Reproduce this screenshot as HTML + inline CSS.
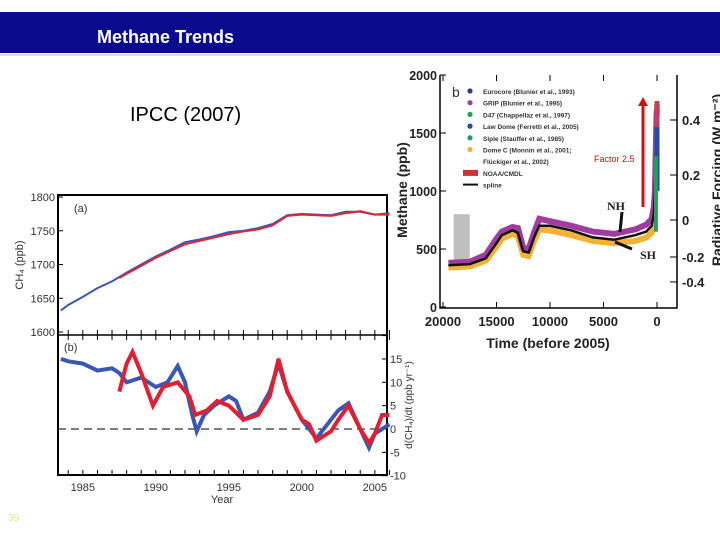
<!DOCTYPE html>
<html><head><meta charset="utf-8"><style>
body{margin:0;width:720px;height:540px;background:#fff;overflow:hidden;font-family:"Liberation Sans",sans-serif;}
svg{position:absolute;left:0;top:0}
</style></head><body>
<svg width="720" height="540" font-family="Liberation Sans, sans-serif">
<rect x="0" y="12" width="720" height="41" fill="#0b0b8e"/>
<line x1="0" y1="55" x2="720" y2="55" stroke="#bbb" stroke-width="1"/>
<text x="97" y="43" fill="#fff" font-size="18" font-weight="bold">Methane Trends</text>
<text x="130" y="121" fill="#000" font-size="20">IPCC (2007)</text>
<text x="8" y="521" fill="#e8e0a0" font-size="10">39</text>
<g id="left"></g>
<g id="right"></g>
</svg>
<script>
// ---- Left chart data ----
const yearsA=[1983.5,1984,1985,1986,1987,1988,1989,1990,1991,1992,1993,1994,1995,1996,1997,1998,1999,2000,2001,2002,2003,2004,2005,2006];
const blueA=[1632,1640,1652,1665,1675,1688,1700,1712,1722,1733,1737,1742,1748,1750,1754,1760,1773,1775,1774,1773,1778,1778,1774,1776];
const yearsRedA=[1987.5,1988,1989,1990,1991,1992,1993,1994,1995,1996,1997,1998,1999,2000,2001,2002,2003,2004,2005,2006];
const redA=[1680,1686,1698,1710,1720,1730,1735,1740,1745,1749,1752,1758,1772,1774,1773,1772,1776,1779,1774,1774];
const yearsBlueB=[1983.5,1984,1985,1986,1987,1987.5,1988,1989,1990,1990.8,1991.5,1992,1992.5,1992.8,1993.3,1994,1995,1995.5,1996,1997,1997.8,1998.4,1999,2000,2001,2001.5,2002,2002.5,2003.2,2004,2004.6,2005,2006];
const blueB=[15,14.5,14,12.5,13,12,10,11,9,10,13.5,10,3,-0.5,3,5,7,6,2,3.5,8,14,8,2,-2,0,2,4,5.5,0,-4,-1,1];
const yearsRedB=[1987.5,1988,1988.4,1989,1989.8,1990.5,1991.5,1992.3,1992.7,1993.5,1994.2,1995,1996,1997,1997.8,1998.4,1999,2000,2000.5,2001,2002,2002.5,2003.2,2004,2004.6,2005,2005.5,2006];
const redB=[8,14,16.5,12,5,9,10,7,3,4,6,5,2,3,7,15,8,2,1,-2.5,-0.5,2,5,0,-3,-1,3,3];
const xTicksL=[1985,1990,1995,2000,2005];
const yTicksA=[1600,1650,1700,1750,1800];
const yTicksB=[-10,-5,0,5,10,15,20];
// ---- Right chart data ----
const timeS=[19500,17500,16000,15000,14500,13500,13000,12500,12000,11500,11000,10000,8000,6000,4000,2000,1000,500,300,200,100,50,0];
const splineS=[360,370,420,550,620,660,640,480,470,600,700,700,660,600,580,620,650,700,800,1000,1400,1700,1774];
const gripS=[380,390,450,590,650,690,680,510,500,640,760,740,700,650,630,670,710,760,860,1000,1400,1650,1700];
const domeS=[340,350,400,520,590,630,610,450,440,570,670,660,620,570,550,570,600,640,700,900,1300,1600,1750];
const xTicksR=[20000,15000,10000,5000,0];
const yTicksR=[0,500,1000,1500,2000];
const rfTicks=[0.4,0.2,0,-0.2,-0.4];
const rfPpbEquiv=[1612,1138,750,431,216];

const NS="http://www.w3.org/2000/svg";
function mk(parent,tag,attrs){const e=document.createElementNS(NS,tag);for(const k in attrs)e.setAttribute(k,attrs[k]);parent.appendChild(e);return e;}
const L=document.getElementById('left'), R=document.getElementById('right');
const xL=y=>58+(y-1983.3)*14.6;
const yA=v=>332-(v-1600)*0.675;
const yB=v=>429-v*4.67;
function path(xs,ys,fx,fy){return xs.map((x,i)=>(i?'L':'M')+fx(x).toFixed(1)+','+fy(ys[i]).toFixed(1)).join('');}
let e;
e=mk(L,'rect',{x:58,y:195,width:329,height:280,fill:'none',stroke:'#000','stroke-width':2});

mk(L,'line',{x1:58,y1:335,x2:387,y2:335,stroke:'#000','stroke-width':1.5});
for(let y=1984;y<=2006;y++){mk(L,'line',{x1:xL(y),y1:330,x2:xL(y),y2:340,stroke:'#000','stroke-width':1});mk(L,'line',{x1:xL(y),y1:475,x2:xL(y),y2:470,stroke:'#000'});}
xTicksL.forEach(t=>{e=mk(L,'text',{x:xL(t),y:491,'text-anchor':'middle','font-size':11,fill:'#333'});e.textContent=t;
});
yTicksA.forEach(t=>{e=mk(L,'text',{x:55,y:yA(t)+4,'text-anchor':'end','font-size':11,fill:'#333'});e.textContent=t;

mk(L,'line',{x1:58,y1:yA(t),x2:63,y2:yA(t),stroke:'#000'});});
yTicksB.forEach(t=>{if(t<20){e=mk(L,'text',{x:390,y:yB(t)+4,'font-size':11,fill:'#333'});e.textContent=t;
}
mk(L,'line',{x1:382,y1:yB(t),x2:387,y2:yB(t),stroke:'#000'});});
e=mk(L,'text',{x:222,y:503,'text-anchor':'middle','font-size':11,fill:'#333'});e.textContent='Year';

e=mk(L,'text',{x:0,y:0,transform:'translate(23,265) rotate(-90)','text-anchor':'middle','font-size':11,fill:'#333'});e.textContent='CH₄ (ppb)';

e=mk(L,'text',{x:0,y:0,transform:'translate(412,405) rotate(-90)','text-anchor':'middle','font-size':10,fill:'#333'});e.textContent='d(CH₄)/dt (ppb yr⁻¹)';

e=mk(L,'text',{x:74,y:212,'font-size':11,fill:'#333'});e.textContent='(a)';
e=mk(L,'text',{x:64,y:351,'font-size':11,fill:'#333'});e.textContent='(b)';
mk(L,'line',{x1:58,y1:yB(0),x2:387,y2:yB(0),stroke:'#000','stroke-dasharray':'8,5'});
e=mk(L,'path',{d:path(yearsA,blueA,xL,yA),fill:'none',stroke:'#3a57b5','stroke-width':2});
e=mk(L,'path',{d:path(yearsRedA,redA,xL,yA),fill:'none',stroke:'#d9283a','stroke-width':2});
e=mk(L,'path',{d:path(yearsBlueB,blueB,xL,yB),fill:'none',stroke:'#3a57b5','stroke-width':4});
e=mk(L,'path',{d:path(yearsRedB,redB,xL,yB),fill:'none',stroke:'#e02030','stroke-width':4});

// Right chart
const xR=t=>657-t*0.0107;
const yR=v=>307-v*0.116;
e=mk(R,'rect',{x:xR(19000),y:yR(800),width:xR(17500)-xR(19000),height:yR(360)-yR(800),fill:'#bfbfbf'});

e=mk(R,'path',{d:'M440,75 L440,308 L677,308 L677,75',fill:'none',stroke:'#000','stroke-width':1.5});

yTicksR.forEach(t=>{e=mk(R,'text',{x:437,y:yR(t)+5,'text-anchor':'end','font-size':12.5,'font-weight':'bold',fill:'#222'});e.textContent=t;
mk(R,'line',{x1:440,y1:yR(t),x2:446,y2:yR(t),stroke:'#000'});});
xTicksR.forEach(t=>{e=mk(R,'text',{x:xR(t),y:326,'text-anchor':'middle','font-size':13,'font-weight':'bold',fill:'#222'});e.textContent=t;
mk(R,'line',{x1:xR(t),y1:308,x2:xR(t),y2:302,stroke:'#000'});mk(R,'line',{x1:xR(t),y1:75,x2:xR(t),y2:81,stroke:'#000'});});
rfTicks.forEach((t,i)=>{const y=yR(rfPpbEquiv[i]);e=mk(R,'text',{x:682,y:y+5,'font-size':13,'font-weight':'bold',fill:'#222'});e.textContent=t;
mk(R,'line',{x1:670,y1:y,x2:677,y2:y,stroke:'#000'});});
e=mk(R,'text',{x:548,y:348,'text-anchor':'middle','font-size':14,'font-weight':'bold',fill:'#222'});e.textContent='Time (before 2005)';

e=mk(R,'text',{x:0,y:0,transform:'translate(407,190) rotate(-90)','text-anchor':'middle','font-size':14,'font-weight':'bold',fill:'#222'});e.textContent='Methane (ppb)';

e=mk(R,'text',{x:0,y:0,transform:'translate(722,180) rotate(-90)','text-anchor':'middle','font-size':14,'font-weight':'bold',fill:'#222'});e.textContent='Radiative Forcing (W m⁻²)';

e=mk(R,'path',{d:path(timeS,domeS,xR,yR),fill:'none',stroke:'#f2b233','stroke-width':6});
e=mk(R,'path',{d:path(timeS,gripS,xR,yR),fill:'none',stroke:'#a03ca0','stroke-width':6});
e=mk(R,'path',{d:path(timeS,splineS,xR,yR),fill:'none',stroke:'#111','stroke-width':2.5});
mk(R,'line',{x1:xR(0),y1:yR(1774),x2:xR(0),y2:yR(1000),stroke:'#2a4aa0','stroke-width':5});
mk(R,'line',{x1:xR(0),y1:yR(1774),x2:xR(0),y2:yR(1550),stroke:'#c04060','stroke-width':5});
mk(R,'line',{x1:xR(100),y1:yR(1300),x2:xR(100),y2:yR(650),stroke:'#2a9a60','stroke-width':4});
mk(R,'line',{x1:620,y1:232,x2:622,y2:212,stroke:'#111','stroke-width':3});
mk(R,'line',{x1:615,y1:242,x2:632,y2:249,stroke:'#111','stroke-width':3});
e=mk(R,'text',{x:607,y:210,'font-size':12,'font-weight':'bold','font-family':'Liberation Serif, serif',fill:'#222'});e.textContent='NH';
e=mk(R,'text',{x:640,y:259,'font-size':12,'font-weight':'bold','font-family':'Liberation Serif, serif',fill:'#222'});e.textContent='SH';
e=mk(R,'line',{x1:643,y1:207,x2:643,y2:104,stroke:'#d01010','stroke-width':3});
mk(R,'polygon',{points:'638,106 648,106 643,97',fill:'#d01010'});
e=mk(R,'text',{x:594,y:162,'font-size':9,fill:'#c01010'});e.textContent='Factor 2.5';
e=mk(R,'text',{x:452,y:97,'font-size':14,fill:'#333'});e.textContent='b';
const legText=['Eurocore (Blunier et al., 1993)','GRIP (Blunier et al., 1995)','D47 (Chappellaz et al., 1997)','Law Dome (Ferretti et al., 2005)','Siple (Stauffer et al., 1985)','Dome C (Monnin et al., 2001;','Flückiger et al., 2002)','NOAA/CMDL','spline'];
const legCol=['#2a3a90','#a03ca0','#2a9a60','#2a4aa0','#2a9a60','#f2b233',null,'#d03030','#111'];
legText.forEach((t,i)=>{const y=91+i*11.7;const c=legCol[i];
if(c){if(i==7)mk(R,'rect',{x:463,y:y-3,width:15,height:6,fill:c});else if(i==8)mk(R,'line',{x1:463,y1:y,x2:478,y2:y,stroke:c,'stroke-width':2});else mk(R,'circle',{cx:470,cy:y,r:2.6,fill:c});}
e=mk(R,'text',{x:483,y:y+3,'font-size':6.5,'font-weight':'bold',fill:'#333'});e.textContent=t;
});
</script>
</body></html>
